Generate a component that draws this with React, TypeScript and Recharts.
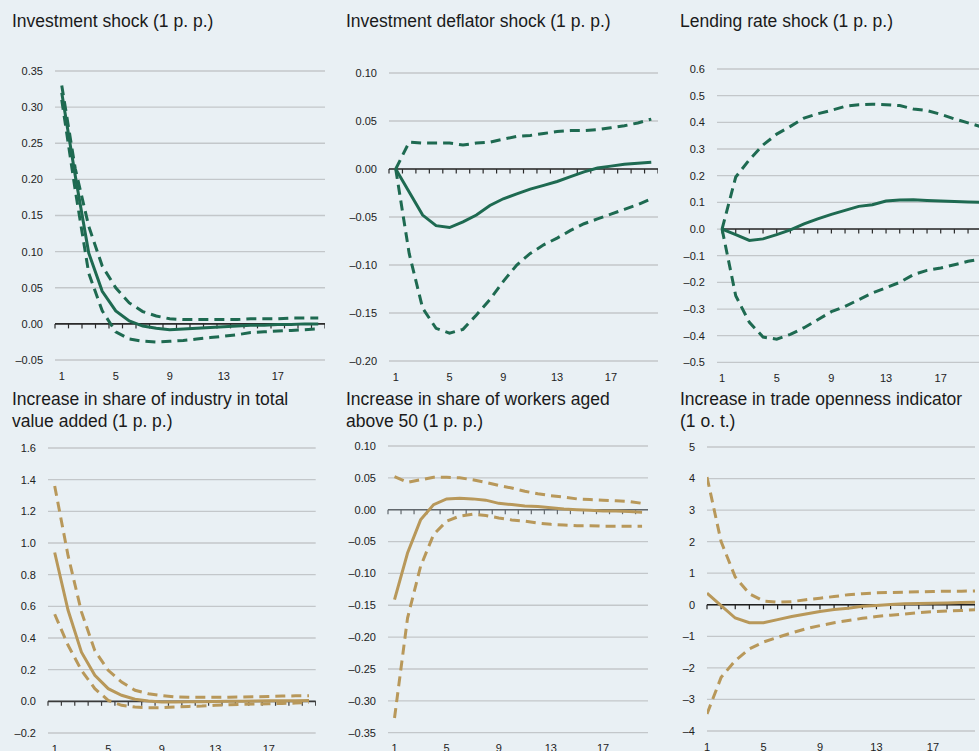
import React from 'react';
import { LineChart, Line, XAxis, YAxis, CartesianGrid, ReferenceLine } from 'recharts';

// ---------- data ----------
const periods = [1, 2, 3, 4, 5, 6, 7, 8, 9, 10, 11, 12, 13, 14, 15, 16, 17, 18, 19, 20];
const xTickLabels = [1, 5, 9, 13, 17];

const invCentral = [0.32, 0.205, 0.098, 0.045, 0.018, 0.004, -0.003, -0.006, -0.008, -0.007, -0.006, -0.005, -0.004, -0.003, -0.002, -0.002, -0.001, -0.001, 0.0, 0.0];
const invUpper = [0.33, 0.215, 0.135, 0.08, 0.05, 0.029, 0.017, 0.011, 0.007, 0.006, 0.006, 0.006, 0.006, 0.006, 0.007, 0.007, 0.007, 0.008, 0.008, 0.008];
const invLower = [0.31, 0.185, 0.07, 0.018, -0.011, -0.021, -0.024, -0.025, -0.024, -0.023, -0.021, -0.019, -0.017, -0.015, -0.012, -0.011, -0.01, -0.009, -0.008, -0.007];

const defCentral = [0, -0.024, -0.048, -0.059, -0.061, -0.055, -0.048, -0.038, -0.031, -0.026, -0.021, -0.017, -0.013, -0.008, -0.003, 0.001, 0.003, 0.005, 0.006, 0.007];
const defUpper = [0, 0.028, 0.027, 0.027, 0.027, 0.025, 0.027, 0.028, 0.031, 0.034, 0.035, 0.037, 0.039, 0.04, 0.04, 0.041, 0.043, 0.045, 0.048, 0.052];
const defLower = [0, -0.088, -0.145, -0.166, -0.171, -0.167, -0.152, -0.136, -0.117, -0.1, -0.088, -0.079, -0.072, -0.064, -0.057, -0.052, -0.047, -0.042, -0.037, -0.031];

const lendCentral = [0, -0.021, -0.043, -0.037, -0.021, -0.003, 0.019, 0.038, 0.055, 0.07, 0.085, 0.091, 0.105, 0.109, 0.11, 0.107, 0.105, 0.103, 0.101, 0.1];
const lendUpper = [0, 0.195, 0.26, 0.315, 0.356, 0.385, 0.416, 0.432, 0.445, 0.46, 0.466, 0.468, 0.466, 0.463, 0.45, 0.444, 0.43, 0.413, 0.398, 0.383];
const lendLower = [0, -0.25, -0.35, -0.405, -0.413, -0.395, -0.37, -0.34, -0.31, -0.29, -0.265, -0.24, -0.22, -0.2, -0.171, -0.155, -0.146, -0.134, -0.121, -0.112];

const indCentral = [0.94, 0.575, 0.31, 0.164, 0.08, 0.038, 0.013, 0.002, -0.004, -0.004, -0.003, -0.002, -0.001, 0.0, 0.001, 0.002, 0.003, 0.004, 0.004, 0.005];
const indUpper = [1.36, 0.92, 0.565, 0.32, 0.196, 0.122, 0.07, 0.048, 0.036, 0.028, 0.026, 0.025, 0.025, 0.026, 0.027, 0.029, 0.031, 0.033, 0.035, 0.036];
const indLower = [0.55, 0.354, 0.196, 0.08, 0.006, -0.025, -0.036, -0.04, -0.04, -0.036, -0.032, -0.03, -0.025, -0.021, -0.019, -0.017, -0.015, -0.013, -0.011, -0.008];

const ageCentral = [-0.141, -0.068, -0.016, 0.008, 0.017, 0.018, 0.017, 0.015, 0.01, 0.008, 0.006, 0.005, 0.003, 0.001, 0.0, -0.001, -0.002, -0.002, -0.003, -0.004];
const ageUpper = [0.052, 0.043, 0.047, 0.051, 0.051, 0.05, 0.047, 0.043, 0.038, 0.034, 0.029, 0.025, 0.022, 0.02, 0.017, 0.016, 0.015, 0.014, 0.013, 0.01];
const ageLower = [-0.327, -0.17, -0.089, -0.039, -0.018, -0.01, -0.007, -0.009, -0.013, -0.016, -0.018, -0.021, -0.023, -0.024, -0.025, -0.025, -0.026, -0.026, -0.026, -0.026];

const tradeCentral = [0.37, -0.03, -0.42, -0.57, -0.57, -0.47, -0.37, -0.29, -0.21, -0.15, -0.11, -0.05, -0.02, 0.01, 0.03, 0.04, 0.05, 0.06, 0.07, 0.08];
const tradeUpper = [4.05, 2.0, 0.88, 0.35, 0.12, 0.08, 0.1, 0.16, 0.21, 0.26, 0.32, 0.35, 0.38, 0.39, 0.4, 0.41, 0.42, 0.43, 0.43, 0.44];
const tradeLower = [-3.46, -2.3, -1.77, -1.4, -1.18, -1.03, -0.89, -0.76, -0.66, -0.57, -0.5, -0.43, -0.37, -0.33, -0.29, -0.25, -0.22, -0.2, -0.18, -0.16];

const ticksInv = [-0.05, 0, 0.05, 0.1, 0.15, 0.2, 0.25, 0.3, 0.35];
const ticksDef = [-0.2, -0.15, -0.1, -0.05, 0, 0.05, 0.1];
const ticksLend = [-0.5, -0.4, -0.3, -0.2, -0.1, 0, 0.1, 0.2, 0.3, 0.4, 0.5, 0.6];
const ticksInd = [-0.2, 0, 0.2, 0.4, 0.6, 0.8, 1.0, 1.2, 1.4, 1.6];
const ticksAge = [-0.35, -0.3, -0.25, -0.2, -0.15, -0.1, -0.05, 0, 0.05, 0.1];
const ticksTrade = [-4, -3, -2, -1, 0, 1, 2, 3, 4, 5];

const titleInv = ['Investment shock (1 p. p.)'];
const titleDef = ['Investment deflator shock (1 p. p.)'];
const titleLend = ['Lending rate shock (1 p. p.)'];
const titleInd = ['Increase in share of industry in total', 'value added (1 p. p.)'];
const titleAge = ['Increase in share of workers aged', 'above 50 (1 p. p.)'];
const titleTrade = ['Increase in trade openness indicator', '(1 o. t.)'];

// ---------- styles ----------
const BG = '#e9f0f4';
const GREEN = '#1e6a51';
const GOLD = '#b8985a';
const GRID = '#c3c7ca';
const FONT = '"Liberation Sans", Arial, Helvetica, sans-serif';

const build = (c: number[], u: number[], l: number[]) =>
  periods.map((p, i) => ({ p, c: c[i], u: u[i], l: l[i] }));

const fmt = (d: number) => (v: number) =>
  v < 0 ? '\u2013' + Math.abs(v).toFixed(d) : v.toFixed(d);

type PanelCfg = {
  title: string[];
  titleX: number;
  titleY: number;
  data: any[];
  color: string;
  axisColor: string;
  plot: { l: number; r: number; t: number; b: number };
  xDomain: [number, number];
  axisFrom: number;
  axisTicks: number[];
  yTicks: number[];
  dec: number;
};

const bandTicks: number[] = [];
for (let i = 0; i <= 20; i++) bandTicks.push(i + 0.5);
const pointTicks: number[] = [];
for (let i = 1; i <= 20; i++) pointTicks.push(i);

const panels: PanelCfg[] = [
  { title: titleInv, titleX: 12, titleY: 11, data: build(invCentral, invUpper, invLower), color: GREEN, axisColor: '#2b2b2b',
    plot: { l: 55.3, r: 325.3, t: 71, b: 360 }, xDomain: [0.5, 20.5], axisFrom: 0.5, axisTicks: bandTicks, yTicks: ticksInv, dec: 2 },
  { title: titleDef, titleX: 346, titleY: 11, data: build(defCentral, defUpper, defLower), color: GREEN, axisColor: '#2b2b2b',
    plot: { l: 389.3, r: 658.3, t: 73.3, b: 361.3 }, xDomain: [0.5, 20.5], axisFrom: 0.5, axisTicks: bandTicks, yTicks: ticksDef, dec: 2 },
  { title: titleLend, titleX: 680, titleY: 11, data: build(lendCentral, lendUpper, lendLower), color: GREEN, axisColor: '#2b2b2b',
    plot: { l: 717, r: 988, t: 69.3, b: 362.7 }, xDomain: [0.63, 20.46], axisFrom: 1, axisTicks: pointTicks, yTicks: ticksLend, dec: 1 },
  { title: titleInd, titleX: 12, titleY: 389, data: build(indCentral, indUpper, indLower), color: GOLD, axisColor: '#3a3a3a',
    plot: { l: 48.3, r: 316, t: 447.7, b: 732.7 }, xDomain: [0.5, 20.5], axisFrom: 0.5, axisTicks: bandTicks, yTicks: ticksInd, dec: 1 },
  { title: titleAge, titleX: 346, titleY: 389, data: build(ageCentral, ageUpper, ageLower), color: GOLD, axisColor: '#62686d',
    plot: { l: 387.7, r: 648.3, t: 446, b: 732.7 }, xDomain: [0.5, 20.5], axisFrom: 0.5, axisTicks: bandTicks, yTicks: ticksAge, dec: 2 },
  { title: titleTrade, titleX: 680, titleY: 389, data: build(tradeCentral, tradeUpper, tradeLower), color: GOLD, axisColor: '#1f1f1f',
    plot: { l: 706.7, r: 975, t: 446.7, b: 730.7 }, xDomain: [1, 20], axisFrom: 1, axisTicks: pointTicks, yTicks: ticksTrade, dec: 0 },
];

const Y_W = 50;
const X_H = 20;
const M_TOP = 20;
const M_BOT = 5;

function ZeroAxisShape(props: any) {
  const { x1, x2, y1, d0, d1, from, ticks, color } = props;
  const px = (v: number) => x1 + ((v - d0) / (d1 - d0)) * (x2 - x1);
  const y = y1;
  const start = px(from);
  return (
    <g>
      <line x1={start} x2={x2} y1={y} y2={y} stroke={color} strokeWidth={1.6} />
      {ticks.map((t: number) => (
        <line key={t} x1={px(t)} x2={px(t)} y1={y} y2={y + 4.5} stroke={color} strokeWidth={1.2} />
      ))}
    </g>
  );
}

function Panel({ cfg }: { cfg: PanelCfg }) {
  const { plot } = cfg;
  const left = plot.l - Y_W;
  const top = plot.t - M_TOP;
  const width = plot.r - left;
  const height = plot.b - top + X_H + M_BOT;
  const tickStyle = { fontSize: 11, fill: '#222', fontFamily: FONT };
  return (
    <>
      <div
        style={{
          position: 'absolute',
          left: cfg.titleX,
          top: cfg.titleY,
          fontFamily: FONT,
          fontSize: 17.5,
          lineHeight: '21.5px',
          color: '#1a1a1a',
          whiteSpace: 'nowrap',
        }}
      >
        {cfg.title.map((t, i) => (
          <div key={i}>{t}</div>
        ))}
      </div>
      <div style={{ position: 'absolute', left, top }}>
        <LineChart width={width} height={height} data={cfg.data} margin={{ top: M_TOP, right: 0, bottom: M_BOT, left: 0 }}>
          <CartesianGrid vertical={false} stroke={GRID} strokeWidth={1.3} />
          <XAxis
            dataKey="p"
            type="number"
            domain={cfg.xDomain}
            ticks={xTickLabels}
            interval={0}
            height={X_H}
            axisLine={false}
            tickLine={false}
            tickSize={0}
            tickMargin={12}
            tick={tickStyle}
            allowDataOverflow
          />
          <YAxis
            type="number"
            domain={[cfg.yTicks[0], cfg.yTicks[cfg.yTicks.length - 1]]}
            ticks={cfg.yTicks}
            interval={0}
            width={Y_W}
            axisLine={false}
            tickLine={false}
            tickSize={0}
            tickMargin={12}
            tick={tickStyle}
            tickFormatter={fmt(cfg.dec)}
            allowDataOverflow
          />
          <ReferenceLine
            y={0}
            shape={(p: any) => (
              <ZeroAxisShape
                {...p}
                d0={cfg.xDomain[0]}
                d1={cfg.xDomain[1]}
                from={cfg.axisFrom}
                ticks={cfg.axisTicks}
                color={cfg.axisColor}
              />
            )}
          />
          <Line type="linear" dataKey="u" stroke={cfg.color} strokeWidth={3} strokeDasharray="10 6" dot={false} isAnimationActive={false} />
          <Line type="linear" dataKey="l" stroke={cfg.color} strokeWidth={3} strokeDasharray="10 6" dot={false} isAnimationActive={false} />
          <Line type="linear" dataKey="c" stroke={cfg.color} strokeWidth={3} dot={false} isAnimationActive={false} />
        </LineChart>
      </div>
    </>
  );
}

export default function App() {
  return (
    <div
      style={{
        position: 'absolute',
        left: 0,
        top: 0,
        width: 979,
        height: 751,
        background: BG,
        overflow: 'hidden',
      }}
    >
      {panels.map((cfg, i) => (
        <Panel key={i} cfg={cfg} />
      ))}
    </div>
  );
}
